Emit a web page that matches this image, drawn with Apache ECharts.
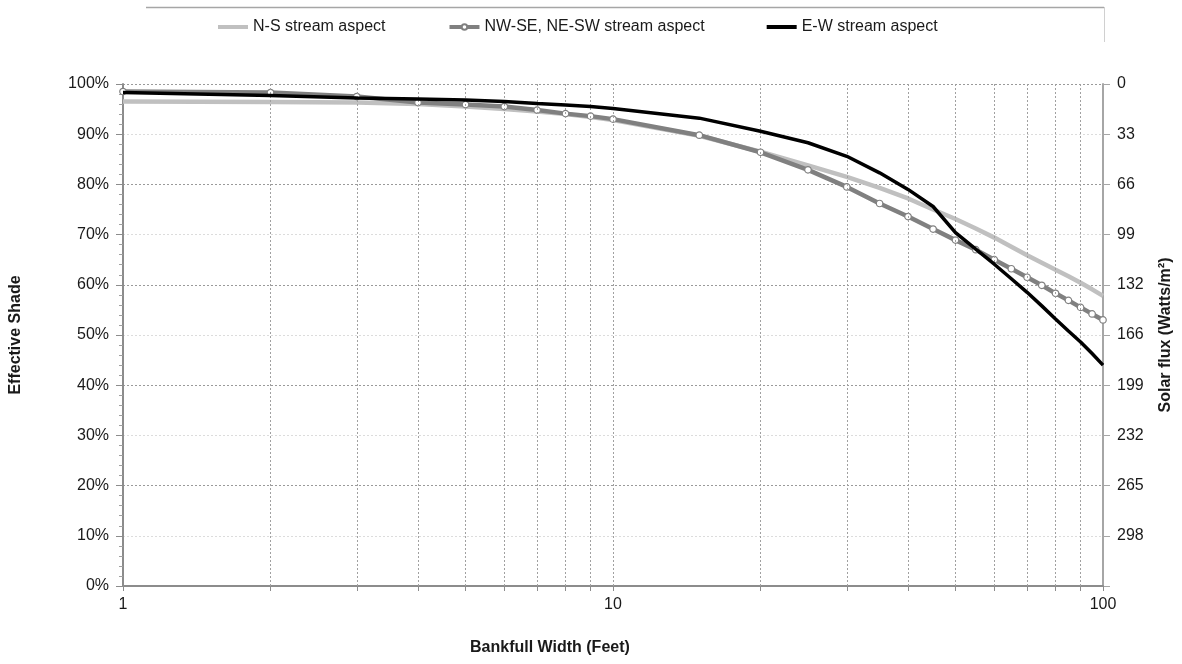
<!DOCTYPE html>
<html>
<head>
<meta charset="utf-8">
<script src="https://cdn.jsdelivr.net/npm/echarts@6/dist/echarts.min.js"></script>
<style>
html,body{margin:0;padding:0;background:#fff;}
#chart{width:1182px;height:664px;}
</style>
</head>
<body>
<div id="chart"></div>
<script>
// Bankfull width (feet)
const widths = [1,2,3,4,5,6,7,8,9,10,15,20,25,30,35,40,45,50,55,60,65,70,75,80,85,90,95,100];
// Effective shade (%)
const nsShade   = [96.5,96.4,96.3,96.0,95.5,95.0,94.5,94.0,93.4,92.8,89.7,86.5,83.8,81.5,79.3,77.2,75.0,73.1,71.2,69.4,67.6,65.9,64.4,63.0,61.7,60.4,59.1,57.8];
const diagShade = [98.5,98.3,97.5,96.3,95.9,95.5,94.8,94.1,93.6,93.0,89.8,86.4,82.9,79.5,76.2,73.6,71.1,68.9,67.0,65.0,63.2,61.5,59.9,58.3,56.9,55.5,54.2,53.0];
const ewShade   = [98.3,97.7,97.2,97.0,96.8,96.5,96.1,95.8,95.5,95.1,93.2,90.6,88.3,85.6,82.3,79.0,75.6,70.4,67.1,64.1,61.2,58.5,55.8,53.2,50.8,48.6,46.3,44.0];
const seriesNames = ['N-S stream aspect','NW-SE, NE-SW stream aspect','E-W stream aspect'];
// axis ticks / gridlines
const xLabelValues = [1,10,100];
const xTickValues = [1,2,3,4,5,6,7,8,9,10,20,30,40,50,60,70,80,90,100];
const xGridValues = [2,3,4,5,6,7,8,9,10,20,30,40,50,60,70,80,90];
const fluxMax = 331;
const fluxStep = 33.1;
const xTitle = 'Bankfull Width (Feet)';

const pair = (xs, ys) => xs.map((x, i) => [x, ys[i]]);
const FONT = '"Liberation Sans", Arial, sans-serif';
const BAR_ICON = 'path://M0,0 L30,0 L30,4 L0,4 Z';

const chart = echarts.init(document.getElementById('chart'), null, {renderer: 'canvas'});
chart.setOption({
  animation: false,
  backgroundColor: '#fff',
  textStyle: {fontFamily: FONT},
  grid: {left: 123, right: 78, top: 84, bottom: 78, containLabel: false},
  legend: {
    left: 213, top: 14,
    itemWidth: 30, itemHeight: 7, itemGap: 62,
    textStyle: {fontSize: 16, color: '#1a1a1a', fontFamily: FONT},
    data: [
      {name: seriesNames[0], icon: BAR_ICON},
      {name: seriesNames[1], lineStyle: {width: 4, color: '#808080'}},
      {name: seriesNames[2], icon: BAR_ICON}
    ]
  },
  graphic: [
    {type: 'line', shape: {x1: 146, y1: 7.5, x2: 1104, y2: 7.5}, style: {stroke: '#a6a6a6', lineWidth: 1.5}, silent: true},
    {type: 'line', shape: {x1: 1104.5, y1: 7, x2: 1104.5, y2: 42}, style: {stroke: '#d0d0d0', lineWidth: 1}, silent: true},
    {type: 'text', left: 470, top: 640, silent: true,
      style: {text: xTitle, font: 'bold 16px ' + FONT, fill: '#1a1a1a'}}
  ],
  xAxis: {
    type: 'log', logBase: 10, min: 1, max: 100,
    axisLine: {lineStyle: {color: '#8c8c8c', width: 2}},
    axisTick: {show: true, length: 5, lineStyle: {color: '#8c8c8c'}, customValues: xTickValues},
    axisLabel: {fontSize: 16, color: '#1a1a1a', margin: 11, customValues: xLabelValues, formatter: v => String(Math.round(v))},
    splitLine: {show: false},
    minorTick: {show: false}, minorSplitLine: {show: false}
  },
  yAxis: [
    {
      type: 'value', min: 0, max: 100, interval: 10, position: 'left',
      name: 'Effective Shade', nameLocation: 'middle', nameGap: 99,
      nameTextStyle: {fontSize: 16, fontWeight: 'bold', color: '#1a1a1a', fontFamily: FONT},
      axisLine: {show: true, lineStyle: {color: '#8c8c8c', width: 2}},
      axisTick: {show: true, length: 7, lineStyle: {color: '#8c8c8c'}},
      minorTick: {show: true, splitNumber: 5, length: 4, lineStyle: {color: '#a0a0a0'}},
      axisLabel: {fontSize: 16, color: '#1a1a1a', margin: 14, formatter: '{value}%'},
      splitLine: {show: true, lineStyle: {color: ['#9a9a9a', '#dcdcdc'], type: [2, 2], width: 1}}
    },
    {
      type: 'value', min: 0, max: fluxMax, interval: fluxStep, inverse: true, position: 'right',
      name: 'Solar flux (Watts/m²)', nameLocation: 'middle', nameGap: 55,
      nameTextStyle: {fontSize: 16, fontWeight: 'bold', color: '#1a1a1a', fontFamily: FONT},
      axisLine: {show: true, lineStyle: {color: '#a6a6a6', width: 2}},
      axisTick: {show: true, length: 7, lineStyle: {color: '#a6a6a6'}},
      axisLabel: {fontSize: 16, color: '#1a1a1a', margin: 14,
        formatter: v => (v > fluxMax - 1 ? '' : String(Math.round(v)))},
      splitLine: {show: false}
    }
  ],
  series: [
    {
      name: 'grid', type: 'line', data: [], z: 1, silent: true,
      markLine: {
        silent: true, symbol: ['none', 'none'], label: {show: false},
        lineStyle: {color: '#a0a0a0', type: [2, 2], width: 1},
        emphasis: {disabled: true},
        data: xGridValues.map(v => ({xAxis: v}))
      }
    },
    {
      name: seriesNames[0], type: 'line', data: pair(widths, nsShade), z: 3,
      showSymbol: false, symbol: 'none',
      lineStyle: {color: '#c0c0c0', width: 4.5},
      itemStyle: {color: '#c0c0c0'}
    },
    {
      name: seriesNames[1], type: 'line', data: pair(widths, diagShade), z: 4,
      symbol: 'circle', symbolSize: 6.5, showAllSymbol: true,
      lineStyle: {color: '#808080', width: 4.5},
      itemStyle: {color: '#ffffff', borderColor: '#808080', borderWidth: 1.2}
    },
    {
      name: seriesNames[2], type: 'line', data: pair(widths, ewShade), z: 5,
      showSymbol: false, symbol: 'none',
      lineStyle: {color: '#000000', width: 3.5},
      itemStyle: {color: '#000000'}
    }
  ]
});
</script>
</body>
</html>
